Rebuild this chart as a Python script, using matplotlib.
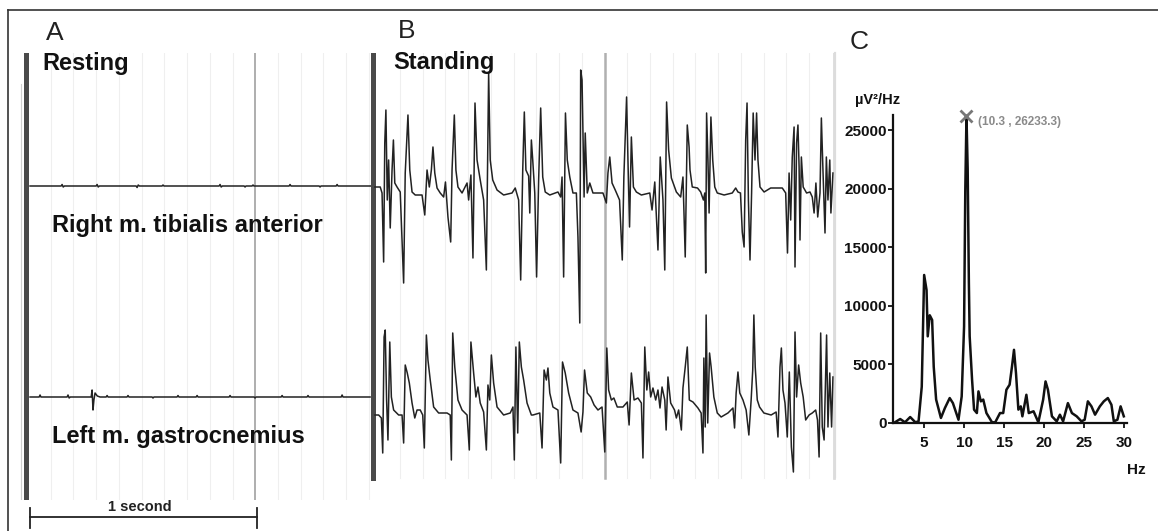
import matplotlib
matplotlib.use("Agg")
import matplotlib.pyplot as plt
import numpy as np
from matplotlib.lines import Line2D

plt.rcParams["font.family"] = ["Liberation Sans", "DejaVu Sans"]

# ---- data ----
# A: resting EMG (time in ms, amplitude in a.u.)
rest_top_t = [9, 146, 150, 155, 160, 300, 304, 309, 314, 476, 480, 485, 490,
              590, 594, 598, 841, 845, 850, 855, 951, 955, 959, 986, 990, 994,
              1149, 1153, 1157, 1281, 1285, 1289, 1356, 1360, 1364, 1514]
rest_top_v = [0, 0, 1.5, -1, 0, 0, 1.5, -1, 0, 0, -1.5, 1, 0,
              0, 1, 0, 0, 1.5, -1, 0, 0, -1, 0, 0, 1, 0,
              0, 1.5, 0, 0, -1, 0, 0, 1.5, 0, 0]
rest_bot_t = [9, 49, 53, 57, 172, 176, 181, 186, 278, 282, 286, 290, 295, 305,
              317, 344, 348, 352, 436, 440, 444, 546, 550, 554, 656, 660, 664,
              740, 744, 748, 885, 889, 893, 995, 999, 1003, 1114, 1118, 1122,
              1228, 1232, 1236, 1378, 1382, 1386, 1505]
rest_bot_v = [0, 0, 2, 0, 0, 2, -1, 0, 0, 7, -13, -3, 4, 1,
              0, 0, 1.5, 0, 0, 1.5, 0, 0, -1, 0, 0, 1.5, 0,
              0, 1.5, 0, 0, 1.5, 0, 0, -1, 0, 0, 1.5, 0,
              0, 1.5, 0, 0, 2, 0, 0]

# B: standing EMG, right m. tibialis anterior
stand_top_t = [0, 23, 31, 38, 43, 48, 54, 60, 67, 75, 81, 87, 97, 111, 126, 133,
               145, 153, 163, 177, 207, 219, 229, 239, 248, 255, 263, 273, 287,
               302, 310, 321, 333, 339, 349, 356, 365, 383, 405, 412, 422, 431,
               440, 449, 463, 478, 490, 500, 507, 518, 537, 566, 603, 617, 632,
               641, 650, 657, 664, 676, 681, 688, 694, 703, 711, 720, 729, 738,
               749, 769, 805, 817, 823, 830, 838, 846, 857, 871, 886, 893, 901,
               905, 911, 920, 925, 934, 945, 959, 1003, 1018, 1025, 1033, 1043,
               1057, 1076, 1088, 1095, 1107, 1113, 1120, 1128, 1137, 1150, 1172,
               1209, 1219, 1231, 1245, 1255, 1267, 1275, 1283, 1292, 1304, 1326,
               1345, 1355, 1365, 1374, 1382, 1386, 1396, 1419, 1433, 1445, 1451,
               1455, 1459, 1465, 1470, 1478, 1486, 1495, 1506, 1536, 1572, 1587,
               1597, 1608, 1616, 1624, 1631, 1637, 1643, 1650, 1657, 1664, 1672,
               1679, 1685, 1694, 1712, 1741, 1792, 1807, 1815, 1822, 1829, 1836,
               1844, 1848, 1855, 1861, 1866, 1870, 1876, 1884, 1899, 1914, 1924,
               1932, 1940, 1948, 1958, 1964, 1971, 1980, 1986, 1993, 2001, 2006,
               2015]
stand_top_v = [6, 6, 0, -69, 50, 83, -7, 33, -35, 23, 53, 10, 6, 1, -90, 20,
               78, 23, 1, -2, -2, -22, 23, 6, 23, 46, 20, 5, 0,
               -4, 11, -24, -49, 23, 78, 23, 6, 0, 10, -7, 18, -65,
               90, 33, 13, -7, -77, 120, 33, 13, 3, -2, 0, 5, -7,
               -87, 23, 81, 23, 17, -20, 53, 33, 0, -84, 13, 85, 16,
               1, -2, 1, -4, 16, -84, 80, 33, 16, 0, 0, -44, -130,
               123, 113, -4, 60, 0, 10, 0, 0, -10, 20, 36, 10,
               3, -7, -67, 16, 96, 33, -34, 56, 6, 1, -2,
               0, -17, 11, -57, 36, -7, -77, 91, 43, 15, 1,
               -4, 16, -64, 68, 46, 23, 6, 5, 1, -7, 0,
               -80, 80, 33, -20, 76, 33, 6, 0, -2, 0, 5,
               1, 0, -39, -54, 53, 90, -7, -67, 0, 80, 33,
               80, 33, 6, 1, 5, 5, 0, -60, 20, -27, 36,
               66, -74, 50, 68, 26, -47, 36, 6, 0, 1, -4,
               -20, 10, -24, 0, 75, 23, -40, 36, -7, 33, -20,
               20]

# B: standing EMG, left m. gastrocnemius
stand_bot_t = [0, 16, 28, 34, 40, 45, 51, 57, 65, 72, 82, 104, 119, 126, 133,
               142, 151, 163, 175, 185, 199, 210, 217, 226, 233, 243, 258, 280,
               317, 331, 336, 342, 351, 365, 383, 405, 415, 422, 434, 444, 453,
               463, 478, 490, 497, 505, 512, 522, 537, 566, 595, 607, 613, 620,
               628, 635, 644, 654, 669, 688, 695, 725, 735, 744, 754, 761, 769,
               783, 805, 817, 825, 837, 852, 871, 893, 907, 915, 922, 934, 949,
               964, 981, 999, 1011, 1020, 1028, 1040, 1051, 1066, 1091, 1110,
               1118, 1128, 1140, 1157, 1172, 1179, 1187, 1196, 1204, 1213, 1223,
               1235, 1245, 1254, 1263, 1275, 1281, 1289, 1301, 1318, 1326, 1336,
               1348, 1355, 1365, 1374, 1383, 1399, 1421, 1435, 1443, 1447, 1453,
               1457, 1464, 1472, 1479, 1491, 1506, 1523, 1553, 1575, 1582, 1589,
               1597, 1605, 1619, 1633, 1645, 1655, 1662, 1667, 1673, 1682, 1692,
               1711, 1743, 1765, 1773, 1782, 1788, 1795, 1804, 1814, 1823, 1832,
               1841, 1848, 1855, 1864, 1873, 1884, 1895, 1910, 1924, 1939, 1947,
               1954, 1961, 1968, 1976, 1987, 1993, 2001, 2009, 2015]
stand_bot_v = [0, 0, -3, -38, 78, 85, 15, -25, 73, 18, 5, 0, 0, -28, 50,
               42, 32, 12, -3, 5, 5, 0, -33, 80, 55, 35, 8, 2,
               2, 0, -45, 82, 48, 15, 5, 0, -35, 73, 42, 18, 28,
               12, 3, -35, 30, 15, 60, 32, 8, 0, 2, 8, -45, 68,
               -18, 73, 48, 35, 12, 0, 0, 2, -33, 45, 35, 47, 22,
               8, 5, -48, 53, 42, 22, 5, 2, -17, 3, 45, 22, 18,
               10, 5, 8, -37, 67, 25, 15, 17, 8, 8, 13,
               -10, 42, 15, 17, 12, -43, 68, 25, 43, 18, 27,
               15, 25, 7, 28, 15, -15, 38, 12, 5, -3, 5,
               -15, 27, 48, 68, 15, 13, 7, 2, -38, 57, -12,
               100, -8, 62, 48, 18, 2, -2, 2, 7, -13, 22,
               43, 22, 15, 5, -20, 15, 45, 100, 48, 15, 8,
               2, 0, 3, -22, 48, 67, 25, 12, -22, 43, -32,
               -57, 83, 18, 50, 32, 18, -5, 0, 2, 5, -5,
               -42, 82, -12, -25, 80, -12, 42, -12, 38]

scale_bar_ms = 1000

# C: power spectrum
spec_hz = [1.2, 2.0, 2.6, 3.25, 3.9, 4.3, 4.7, 5.0, 5.3, 5.45,
           5.7, 6.0, 6.2, 6.5, 7.1, 7.6, 8.2, 8.6, 9.3, 9.7,
           10.0, 10.15, 10.3, 10.45, 10.6, 10.7, 11.0, 11.25, 11.6, 11.8,
           12.1, 12.4, 12.8, 13.5, 13.9, 14.5, 14.9, 15.3, 15.7, 16.0,
           16.25, 16.5, 16.8, 17.1, 17.3, 17.8, 18.1, 18.7, 19.3, 19.9,
           20.2, 20.5, 21.0, 21.6, 22.0, 22.4, 23.0, 23.5, 24.1, 24.7,
           25.1, 25.5, 25.95, 26.4, 27.0, 27.5, 28.0, 28.45, 28.75, 29.2,
           29.6, 30.0]
spec_pow = [0, 340, 60, 510, 60, 140, 3100, 12640, 11360, 7400,
            9200, 8800, 4800, 2000, 430, 1280, 2130, 1700, 280, 2270,
            8240, 19800, 26233.3, 21700, 12000, 7400, 3700, 1140, 850, 2700,
            1850, 2000, 850, 60, 60, 850, 850, 2840, 3270, 4830,
            6250, 4260, 1140, 1420, 570, 2410, 850, 1000, 60, 1990,
            3550, 2840, 570, 140, 710, 140, 1700, 850, 570, 140,
            280, 1850, 1420, 710, 1420, 1850, 2130, 1560, 140, 280,
            1420, 570]
peak_hz, peak_pow = 10.3, 26233.3
c_xticks = [5, 10, 15, 20, 25, 30]
c_yticks = [0, 5000, 10000, 15000, 20000, 25000]

# ---- layout helpers (pixel -> figure fraction) ----
W, H = 1158, 531
MS_PER_PX = 4.4


def fx(px):
    return px / W


def fy(py):
    return 1 - py / H


fig = plt.figure(figsize=(W / 100, H / 100), dpi=100)

# outer frame (top and left only)
fig.add_artist(Line2D([fx(8), fx(8)], [fy(10), 0], color="#333", lw=1.2))
fig.add_artist(Line2D([fx(8), 1], [fy(10), fy(10)], color="#333", lw=1.2))


def emg_axes(left_px, right_px, t0_px):
    ax = fig.add_axes([fx(left_px), fy(500), (right_px - left_px) / W, 447 / H])
    ax.set_xlim((left_px - t0_px) * MS_PER_PX, (right_px - t0_px) * MS_PER_PX)
    ax.set_ylim(0, 447)
    ax.axis("off")
    ax.patch.set_alpha(0)
    return ax


# panel A
ax_a = emg_axes(18, 372, 28)
for t in range(100, 1600, 100):
    dark = t == 1000
    ax_a.axvline(t, color="#a8a8a8" if dark else "#efefef",
                 lw=1.3 if dark else 0.8, zorder=0)
ax_a.axvline(-33, ymin=0.0, ymax=0.93, color="#d0d0d0", lw=0.8, zorder=0)
ax_a.axvline(-9, color="#4a4a4a", lw=3.6, zorder=1)
ax_a.plot(rest_top_t, np.array(rest_top_v) + 314, color="#222", lw=1.1)
ax_a.plot(rest_bot_t, np.array(rest_bot_v) + 103, color="#222", lw=1.1)
ax_a.plot([9, 9 + scale_bar_ms], [-17, -17], color="#222", lw=1.3, clip_on=False)
for t in (9, 9 + scale_bar_ms):
    ax_a.plot([t, t], [-8, -28], color="#222", lw=1.3, clip_on=False)

# panel B
ax_b = emg_axes(368, 840, 375)
ymin_b = 22 / 447
for t in range(110, 2000, 100):
    dark = t == 1010
    ax_b.axvline(t, ymin=ymin_b, color="#b0b0b0" if dark else "#efefef",
                 lw=1.8 if dark else 0.8, zorder=0)
ax_b.axvline(2020, ymin=ymin_b, color="#dcdcdc", lw=2.0, zorder=0)
ax_b.axvline(-9, ymin=ymin_b, color="#4a4a4a", lw=3.6, zorder=1)
ax_b.plot(stand_top_t, np.array(stand_top_v) + 307, color="#222", lw=1.1)
ax_b.plot(stand_bot_t, np.array(stand_bot_v) + 85, color="#222", lw=1.1)

# panel C
ax_c = fig.add_axes([fx(893), fy(423), 234 / W, 308 / H])
ax_c.plot(spec_hz, spec_pow, color="#111", lw=1.8)
ax_c.plot([peak_hz], [peak_pow], marker="x", ms=9, mew=2, color="#777",
          clip_on=False)
ax_c.annotate(f"({peak_hz} , {peak_pow})", xy=(peak_hz, peak_pow),
              xytext=(8, -4.5), textcoords="offset points", fontsize=8.5,
              color="#8a8a8a", weight="bold", va="center", ha="left",
              annotation_clip=False)
ax_c.set_xlim(1.1, 30.4)
ax_c.set_ylim(0, 26300)
ax_c.set_xticks(c_xticks)
ax_c.set_yticks(c_yticks)
for s in ("top", "right"):
    ax_c.spines[s].set_visible(False)
for s in ("left", "bottom"):
    ax_c.spines[s].set_linewidth(1.6)
    ax_c.spines[s].set_color("#111")
ax_c.tick_params(axis="x", direction="out", length=3.5, width=1.3,
                 labelsize=11, pad=6, colors="#111")
ax_c.tick_params(axis="y", direction="out", length=3.5, width=1.3,
                 labelsize=11, pad=1, colors="#111")
for lbl in ax_c.get_xticklabels() + ax_c.get_yticklabels():
    lbl.set_fontweight("bold")
ax_c.patch.set_alpha(0)
fig.add_artist(Line2D([fx(835), fx(835)], [fy(53), fy(477)], color="#dcdcdc",
                      lw=1.6))

# text
fig.text(fx(46), fy(40), "A", fontsize=19, va="baseline", color="#222")
fig.text(fx(398), fy(38), "B", fontsize=19, va="baseline", color="#222")
fig.text(fx(850), fy(49), "C", fontsize=19, va="baseline", color="#222")
fig.text(fx(42), fy(70.5), "Resting", fontsize=17, weight="bold",
         va="baseline", color="#111")
fig.text(fx(393), fy(69), "Standing", fontsize=17, weight="bold",
         va="baseline", color="#111")
fig.text(fx(52), fy(232), "Right m. tibialis anterior", fontsize=17,
         weight="bold", va="baseline", color="#111")
fig.text(fx(52), fy(443), "Left m. gastrocnemius", fontsize=17,
         weight="bold", va="baseline", color="#111")
fig.text(fx(140), fy(511), "1 second", fontsize=10.5, weight="bold",
         ha="center", va="baseline", color="#222")
fig.text(fx(855), fy(104), "µV²/Hz", fontsize=10.5, weight="bold",
         va="baseline", color="#111")
fig.text(fx(1127), fy(474), "Hz", fontsize=11, weight="bold",
         va="baseline", color="#111")

fig.savefig("out.png", dpi=100)
